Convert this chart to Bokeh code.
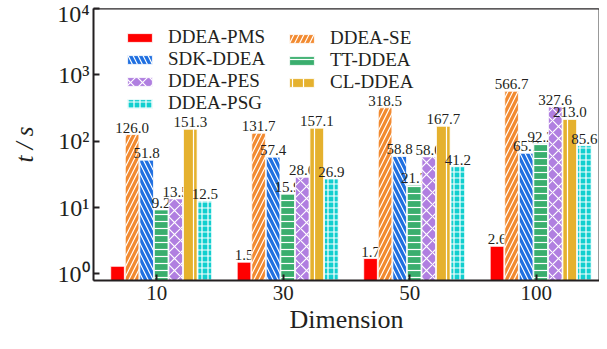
from bokeh.plotting import figure
from bokeh.models import (ColumnDataSource, FactorRange, Range1d, FixedTicker, Legend,
                          LegendItem, Span, Title)
from bokeh.core.properties import value
from bokeh.transform import dodge
from bokeh.embed import file_html
from bokeh.resources import INLINE

# ---------------- data ----------------
dimensions = ["10", "30", "50", "100"]
ddea_pms = [1.3, 1.5, 1.7, 2.6]
ddea_se = [126.0, 131.7, 318.5, 566.7]
sdk_ddea = [51.8, 57.4, 58.8, 65.7]
tt_ddea = [9.2, 15.9, 21.7, 92.2]
ddea_pes = [13.5, 28.6, 58.0, 327.6]
cl_ddea = [151.3, 157.1, 167.7, 213.0]
ddea_psg = [12.5, 26.9, 41.2, 85.6]
pms_label_shown = [False, True, True, True]

y_ticks = [1, 10, 100, 1000, 10000]
y_tick_labels = ["10⁰", "10¹", "10²", "10³", "10⁴"]
x_title = "Dimension"
y_title = "t / s"

FONT = "Liberation Serif"
TXT = "#231f20"

series = [
    ("DDEA-PMS", ddea_pms, "#ff0000", None, 8),
    ("DDEA-SE", ddea_se, "#f28a30", "/", 10),
    ("SDK-DDEA", sdk_ddea, "#1f6fe0", "\\", 10),
    ("TT-DDEA", tt_ddea, "#3aae6e", "-", 7),
    ("DDEA-PES", ddea_pes, "#b07fe0", "x", 12),
    ("CL-DDEA", cl_ddea, "#e5b12e", "|", 11),
    ("DDEA-PSG", ddea_psg, "#12cfcf", "+", 6),
]

data = {"dim": dimensions}
for name, vals, *_ in series:
    data[name] = vals
    labels = [f"{v:.1f}" for v in vals]
    if name == "DDEA-PMS":
        labels = [l if s else "" for l, s in zip(labels, pms_label_shown)]
    data[name + "_lbl"] = labels
source = ColumnDataSource(data)

p = figure(width=599, height=333, x_range=FactorRange(factors=dimensions),
           y_range=Range1d(10 ** -0.1, 10 ** 4), y_axis_type="log",
           output_backend="svg", toolbar_location=None,
           min_border_left=93, min_border_top=8, min_border_right=0, min_border_bottom=20)

step = 0.115
width = 0.108
renderers = {}
for i, (name, vals, color, hatch, scale) in enumerate(series):
    off = (i - 3) * step + 0.035
    kw = {}
    if hatch:
        kw = dict(hatch_pattern=hatch, hatch_color="white", hatch_scale=scale,
                  hatch_weight=1.2)
    r = p.vbar(x=dodge("dim", off, range=p.x_range), top=name, bottom=0.5, width=width,
               source=source, fill_color=color, line_color="white", line_width=0.8, **kw)
    renderers[name] = r
    p.text(x=dodge("dim", off, range=p.x_range), y=name, text=name + "_lbl", source=source,
           text_align="center", text_baseline="bottom", y_offset=-2,
           text_font=value(FONT), text_font_size="15px", text_color=TXT)

leg1 = Legend(items=[LegendItem(label=n, renderers=[renderers[n]])
                     for n in ["DDEA-PMS", "SDK-DDEA", "DDEA-PES", "DDEA-PSG"]],
              location=(31, 166))
leg2 = Legend(items=[LegendItem(label=n, renderers=[renderers[n]])
                     for n in ["DDEA-SE", "TT-DDEA", "CL-DDEA"]],
              location=(193, 187))
for lg in (leg1, leg2):
    lg.padding = 0
    lg.margin = 0
    lg.spacing = -5
    lg.glyph_width = 31
    lg.glyph_height = 11
    lg.label_standoff = 13
    lg.label_text_font = FONT
    lg.label_text_font_size = "19px"
    lg.label_text_line_height = 1.0
    lg.label_text_color = TXT
    lg.label_height = 11
    lg.background_fill_alpha = 0
    lg.border_line_alpha = 0
    p.add_layout(lg)

p.xgrid.visible = False
p.ygrid.visible = False
p.outline_line_color = "#999999"
p.outline_line_width = 1
p.add_layout(Span(location=10 ** 4, dimension="width", line_color=TXT, line_width=2))

p.yaxis.ticker = FixedTicker(ticks=y_ticks, minor_ticks=[])
p.yaxis.major_label_overrides = {t: l for t, l in zip(y_ticks, y_tick_labels)}
for ax in (p.xaxis[0], p.yaxis[0]):
    ax.axis_line_color = TXT
    ax.axis_line_width = 2
    ax.major_tick_line_color = TXT
    ax.major_tick_line_width = 2
    ax.major_tick_in = 6
    ax.major_tick_out = 0
    ax.minor_tick_line_color = None
    ax.major_label_text_font = FONT
    ax.major_label_text_color = TXT
    ax.axis_label_text_font = FONT
    ax.axis_label_text_color = TXT
    ax.axis_label_text_font_style = "normal"
p.yaxis.major_label_text_font_size = "24px"
p.yaxis.major_label_standoff = 4
p.yaxis.axis_label = y_title
p.yaxis.axis_label_text_font_size = "25px"
p.yaxis.axis_label_text_font_style = "italic"
p.yaxis.axis_label_standoff = 16
p.xaxis.major_label_text_font_size = "21px"
p.xaxis.major_label_standoff = 5

p.add_layout(Title(text=x_title, align="center", vertical_align="bottom", standoff=0,
                   text_font=FONT, text_font_size="26px", text_font_style="normal",
                   text_color=TXT), "below")

open("out.html", "w").write(file_html(p, INLINE))
